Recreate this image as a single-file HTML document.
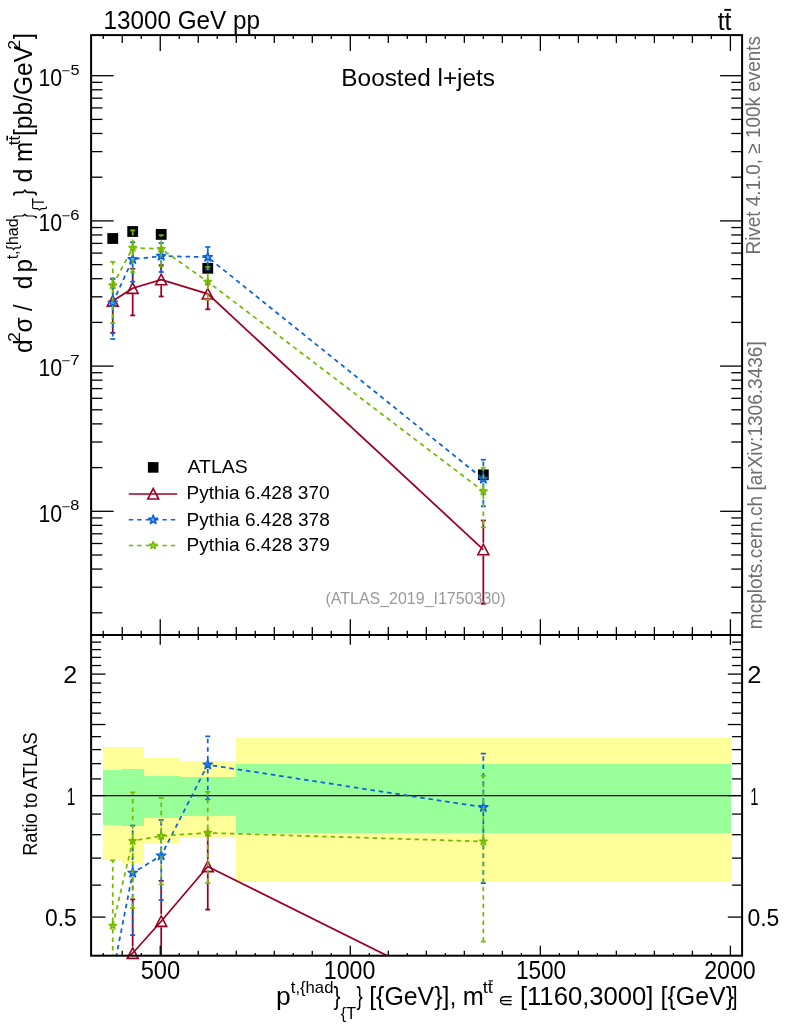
<!DOCTYPE html>
<html><head><meta charset="utf-8"><title>plot</title>
<style>html,body{margin:0;padding:0;background:#fff;}svg{display:block;will-change:transform;}text{font-family:"Liberation Sans",sans-serif;}</style></head><body>
<svg width="786" height="1024" viewBox="0 0 786 1024">
<rect x="0" y="0" width="786" height="1024" fill="#ffffff"/>
<defs>
<clipPath id="cm"><rect x="91.1" y="35.1" width="651.0" height="599.9"/></clipPath>
<clipPath id="cr"><rect x="91.1" y="635.0" width="651.0" height="320.70000000000005"/></clipPath>
</defs>
<rect x="103" y="747" width="19" height="113" fill="#ffff99" shape-rendering="crispEdges"/>
<rect x="122" y="747" width="22" height="116" fill="#ffff99" shape-rendering="crispEdges"/>
<rect x="144" y="758" width="36" height="85" fill="#ffff99" shape-rendering="crispEdges"/>
<rect x="180" y="761" width="56" height="77" fill="#ffff99" shape-rendering="crispEdges"/>
<rect x="236" y="738" width="495" height="144" fill="#ffff99" shape-rendering="crispEdges"/>
<rect x="103" y="770" width="19" height="55" fill="#99ff99" shape-rendering="crispEdges"/>
<rect x="122" y="769" width="22" height="57" fill="#99ff99" shape-rendering="crispEdges"/>
<rect x="144" y="776" width="36" height="42" fill="#99ff99" shape-rendering="crispEdges"/>
<rect x="180" y="777" width="56" height="39" fill="#99ff99" shape-rendering="crispEdges"/>
<rect x="236" y="764" width="495" height="69" fill="#99ff99" shape-rendering="crispEdges"/>
<line x1="91.1" y1="795.60" x2="742.1" y2="795.60" stroke="#000" stroke-width="1.3"/>
<rect x="107.34" y="233.10" width="10.8" height="10.8" fill="#000"/>
<rect x="127.29" y="226.10" width="10.8" height="10.8" fill="#000"/>
<rect x="155.80" y="229.00" width="10.8" height="10.8" fill="#000"/>
<rect x="202.36" y="262.90" width="10.8" height="10.8" fill="#000"/>
<rect x="477.94" y="469.40" width="10.8" height="10.8" fill="#000"/>
<g clip-path="url(#cm)" fill="none" stroke="#9b0023" stroke-width="1.75">
<polyline points="112.74,301.00 132.69,288.20 161.20,279.60 207.76,293.80 483.33,549.60"/>
<line x1="112.74" y1="294.10" x2="112.74" y2="278.70"/>
<line x1="110.24" y1="278.70" x2="115.24" y2="278.70"/>
<line x1="112.74" y1="306.90" x2="112.74" y2="332.90"/>
<line x1="110.24" y1="332.90" x2="115.24" y2="332.90"/>
<line x1="132.69" y1="281.30" x2="132.69" y2="268.80"/>
<line x1="130.19" y1="268.80" x2="135.19" y2="268.80"/>
<line x1="132.69" y1="294.10" x2="132.69" y2="315.40"/>
<line x1="130.19" y1="315.40" x2="135.19" y2="315.40"/>
<line x1="161.20" y1="272.70" x2="161.20" y2="265.10"/>
<line x1="158.70" y1="265.10" x2="163.70" y2="265.10"/>
<line x1="161.20" y1="285.50" x2="161.20" y2="296.50"/>
<line x1="158.70" y1="296.50" x2="163.70" y2="296.50"/>
<line x1="207.76" y1="286.90" x2="207.76" y2="281.30"/>
<line x1="205.26" y1="281.30" x2="210.26" y2="281.30"/>
<line x1="207.76" y1="299.70" x2="207.76" y2="309.30"/>
<line x1="205.26" y1="309.30" x2="210.26" y2="309.30"/>
<line x1="483.33" y1="542.70" x2="483.33" y2="520.50"/>
<line x1="480.83" y1="520.50" x2="485.83" y2="520.50"/>
<line x1="483.33" y1="555.50" x2="483.33" y2="603.80"/>
<line x1="480.83" y1="603.80" x2="485.83" y2="603.80"/>
</g>
<path d="M107.29 306.15 L118.19 306.15 L112.74 295.65 Z" fill="none" stroke="#9b0023" stroke-width="1.6" stroke-linejoin="miter"/>
<path d="M127.24 293.35 L138.14 293.35 L132.69 282.85 Z" fill="none" stroke="#9b0023" stroke-width="1.6" stroke-linejoin="miter"/>
<path d="M155.75 284.75 L166.65 284.75 L161.20 274.25 Z" fill="none" stroke="#9b0023" stroke-width="1.6" stroke-linejoin="miter"/>
<path d="M202.31 298.95 L213.21 298.95 L207.76 288.45 Z" fill="none" stroke="#9b0023" stroke-width="1.6" stroke-linejoin="miter"/>
<path d="M477.88 554.75 L488.78 554.75 L483.33 544.25 Z" fill="none" stroke="#9b0023" stroke-width="1.6" stroke-linejoin="miter"/>
<g clip-path="url(#cm)" fill="none" stroke="#0a62e0" stroke-width="1.75">
<polyline points="112.74,302.70 132.69,259.30 161.20,256.00 207.76,257.20 483.33,479.00" stroke-dasharray="4.5 3.9"/>
<line x1="112.74" y1="298.10" x2="112.74" y2="278.70" stroke-dasharray="4.5 3.9"/>
<line x1="110.24" y1="278.70" x2="115.24" y2="278.70"/>
<line x1="112.74" y1="306.90" x2="112.74" y2="339.00" stroke-dasharray="4.5 3.9"/>
<line x1="110.24" y1="339.00" x2="115.24" y2="339.00"/>
<line x1="132.69" y1="254.70" x2="132.69" y2="242.30" stroke-dasharray="4.5 3.9"/>
<line x1="130.19" y1="242.30" x2="135.19" y2="242.30"/>
<line x1="132.69" y1="263.50" x2="132.69" y2="281.70" stroke-dasharray="4.5 3.9"/>
<line x1="130.19" y1="281.70" x2="135.19" y2="281.70"/>
<line x1="161.20" y1="251.40" x2="161.20" y2="243.10" stroke-dasharray="4.5 3.9"/>
<line x1="158.70" y1="243.10" x2="163.70" y2="243.10"/>
<line x1="161.20" y1="260.20" x2="161.20" y2="272.00" stroke-dasharray="4.5 3.9"/>
<line x1="158.70" y1="272.00" x2="163.70" y2="272.00"/>
<line x1="207.76" y1="252.60" x2="207.76" y2="247.00" stroke-dasharray="4.5 3.9"/>
<line x1="205.26" y1="247.00" x2="210.26" y2="247.00"/>
<line x1="207.76" y1="261.40" x2="207.76" y2="269.70" stroke-dasharray="4.5 3.9"/>
<line x1="205.26" y1="269.70" x2="210.26" y2="269.70"/>
<line x1="483.33" y1="474.40" x2="483.33" y2="459.70" stroke-dasharray="4.5 3.9"/>
<line x1="480.83" y1="459.70" x2="485.83" y2="459.70"/>
<line x1="483.33" y1="483.20" x2="483.33" y2="506.30" stroke-dasharray="4.5 3.9"/>
<line x1="480.83" y1="506.30" x2="485.83" y2="506.30"/>
</g>
<path d="M112.74 297.90 L113.87 301.15 L117.30 301.22 L114.56 303.29 L115.56 306.58 L112.74 304.62 L109.92 306.58 L110.91 303.29 L108.17 301.22 L111.61 301.15 Z" fill="#0a62e0" fill-opacity="0.5" stroke="#0a62e0" stroke-width="1.5" stroke-linejoin="round"/>
<path d="M132.69 254.50 L133.82 257.75 L137.26 257.82 L134.52 259.89 L135.51 263.18 L132.69 261.22 L129.87 263.18 L130.87 259.89 L128.13 257.82 L131.56 257.75 Z" fill="#0a62e0" fill-opacity="0.5" stroke="#0a62e0" stroke-width="1.5" stroke-linejoin="round"/>
<path d="M161.20 251.20 L162.33 254.45 L165.77 254.52 L163.03 256.59 L164.02 259.88 L161.20 257.92 L158.38 259.88 L159.37 256.59 L156.64 254.52 L160.07 254.45 Z" fill="#0a62e0" fill-opacity="0.5" stroke="#0a62e0" stroke-width="1.5" stroke-linejoin="round"/>
<path d="M207.76 252.40 L208.89 255.65 L212.33 255.72 L209.59 257.79 L210.58 261.08 L207.76 259.12 L204.94 261.08 L205.94 257.79 L203.20 255.72 L206.63 255.65 Z" fill="#0a62e0" fill-opacity="0.5" stroke="#0a62e0" stroke-width="1.5" stroke-linejoin="round"/>
<path d="M483.33 474.20 L484.46 477.45 L487.90 477.52 L485.16 479.59 L486.16 482.88 L483.33 480.92 L480.51 482.88 L481.51 479.59 L478.77 477.52 L482.21 477.45 Z" fill="#0a62e0" fill-opacity="0.5" stroke="#0a62e0" stroke-width="1.5" stroke-linejoin="round"/>
<g clip-path="url(#cm)" fill="none" stroke="#74bb00" stroke-width="1.75">
<polyline points="112.74,285.30 132.69,247.80 161.20,248.90 207.76,281.70 483.33,491.30" stroke-dasharray="4.5 3.9"/>
<line x1="112.74" y1="281.50" x2="112.74" y2="261.80" stroke-dasharray="4.5 3.9"/>
<line x1="110.24" y1="261.80" x2="115.24" y2="261.80"/>
<line x1="112.74" y1="288.70" x2="112.74" y2="323.00" stroke-dasharray="4.5 3.9"/>
<line x1="110.24" y1="323.00" x2="115.24" y2="323.00"/>
<line x1="132.69" y1="244.00" x2="132.69" y2="230.30" stroke-dasharray="4.5 3.9"/>
<line x1="130.19" y1="230.30" x2="135.19" y2="230.30"/>
<line x1="132.69" y1="251.20" x2="132.69" y2="272.00" stroke-dasharray="4.5 3.9"/>
<line x1="130.19" y1="272.00" x2="135.19" y2="272.00"/>
<line x1="161.20" y1="245.10" x2="161.20" y2="235.20" stroke-dasharray="4.5 3.9"/>
<line x1="158.70" y1="235.20" x2="163.70" y2="235.20"/>
<line x1="161.20" y1="252.30" x2="161.20" y2="266.30" stroke-dasharray="4.5 3.9"/>
<line x1="158.70" y1="266.30" x2="163.70" y2="266.30"/>
<line x1="207.76" y1="277.90" x2="207.76" y2="267.00" stroke-dasharray="4.5 3.9"/>
<line x1="205.26" y1="267.00" x2="210.26" y2="267.00"/>
<line x1="207.76" y1="285.10" x2="207.76" y2="299.80" stroke-dasharray="4.5 3.9"/>
<line x1="205.26" y1="299.80" x2="210.26" y2="299.80"/>
<line x1="483.33" y1="487.50" x2="483.33" y2="467.60" stroke-dasharray="4.5 3.9"/>
<line x1="480.83" y1="467.60" x2="485.83" y2="467.60"/>
<line x1="483.33" y1="494.70" x2="483.33" y2="527.30" stroke-dasharray="4.5 3.9"/>
<line x1="480.83" y1="527.30" x2="485.83" y2="527.30"/>
</g>
<path d="M112.74 281.40 L113.65 284.04 L116.45 284.09 L114.22 285.78 L115.03 288.46 L112.74 286.86 L110.45 288.46 L111.25 285.78 L109.03 284.09 L111.82 284.04 Z" fill="#74bb00" fill-opacity="0.5" stroke="#74bb00" stroke-width="1.5" stroke-linejoin="round"/>
<path d="M132.69 243.90 L133.61 246.54 L136.40 246.59 L134.18 248.28 L134.99 250.96 L132.69 249.36 L130.40 250.96 L131.21 248.28 L128.98 246.59 L131.78 246.54 Z" fill="#74bb00" fill-opacity="0.5" stroke="#74bb00" stroke-width="1.5" stroke-linejoin="round"/>
<path d="M161.20 245.00 L162.12 247.64 L164.91 247.69 L162.68 249.38 L163.49 252.06 L161.20 250.46 L158.91 252.06 L159.72 249.38 L157.49 247.69 L160.28 247.64 Z" fill="#74bb00" fill-opacity="0.5" stroke="#74bb00" stroke-width="1.5" stroke-linejoin="round"/>
<path d="M207.76 277.80 L208.68 280.44 L211.47 280.49 L209.25 282.18 L210.05 284.86 L207.76 283.26 L205.47 284.86 L206.28 282.18 L204.05 280.49 L206.85 280.44 Z" fill="#74bb00" fill-opacity="0.5" stroke="#74bb00" stroke-width="1.5" stroke-linejoin="round"/>
<path d="M483.33 487.40 L484.25 490.04 L487.04 490.09 L484.82 491.78 L485.63 494.46 L483.33 492.86 L481.04 494.46 L481.85 491.78 L479.63 490.09 L482.42 490.04 Z" fill="#74bb00" fill-opacity="0.5" stroke="#74bb00" stroke-width="1.5" stroke-linejoin="round"/>
<g clip-path="url(#cr)" fill="none" stroke="#9b0023" stroke-width="1.75">
<polyline points="112.74,969.33 132.69,953.21 161.20,921.24 207.76,866.48 483.33,1003.52"/>
<line x1="132.69" y1="946.31" x2="132.69" y2="899.28"/>
<line x1="130.19" y1="899.28" x2="135.19" y2="899.28"/>
<line x1="132.69" y1="959.11" x2="132.69" y2="1028.82"/>
<line x1="130.19" y1="1028.82" x2="135.19" y2="1028.82"/>
<line x1="161.20" y1="914.34" x2="161.20" y2="880.94"/>
<line x1="158.70" y1="880.94" x2="163.70" y2="880.94"/>
<line x1="161.20" y1="927.14" x2="161.20" y2="968.22"/>
<line x1="158.70" y1="968.22" x2="163.70" y2="968.22"/>
<line x1="207.76" y1="859.58" x2="207.76" y2="831.74"/>
<line x1="205.26" y1="831.74" x2="210.26" y2="831.74"/>
<line x1="207.76" y1="872.38" x2="207.76" y2="909.57"/>
<line x1="205.26" y1="909.57" x2="210.26" y2="909.57"/>
</g>
<path d="M127.24 958.36 L138.14 958.36 L132.69 947.86 Z" fill="none" stroke="#9b0023" stroke-width="1.6" stroke-linejoin="miter"/>
<path d="M155.75 926.39 L166.65 926.39 L161.20 915.89 Z" fill="none" stroke="#9b0023" stroke-width="1.6" stroke-linejoin="miter"/>
<path d="M202.31 871.63 L213.21 871.63 L207.76 861.13 Z" fill="none" stroke="#9b0023" stroke-width="1.6" stroke-linejoin="miter"/>
<g clip-path="url(#cr)" fill="none" stroke="#0a62e0" stroke-width="1.75">
<polyline points="112.74,974.06 132.69,872.88 161.20,855.64 207.76,764.75 483.33,807.27" stroke-dasharray="4.5 3.9"/>
<line x1="132.69" y1="868.28" x2="132.69" y2="825.62" stroke-dasharray="4.5 3.9"/>
<line x1="130.19" y1="825.62" x2="135.19" y2="825.62"/>
<line x1="132.69" y1="877.08" x2="132.69" y2="935.14" stroke-dasharray="4.5 3.9"/>
<line x1="130.19" y1="935.14" x2="135.19" y2="935.14"/>
<line x1="161.20" y1="851.04" x2="161.20" y2="819.78" stroke-dasharray="4.5 3.9"/>
<line x1="158.70" y1="819.78" x2="163.70" y2="819.78"/>
<line x1="161.20" y1="859.84" x2="161.20" y2="900.12" stroke-dasharray="4.5 3.9"/>
<line x1="158.70" y1="900.12" x2="163.70" y2="900.12"/>
<line x1="207.76" y1="760.15" x2="207.76" y2="736.39" stroke-dasharray="4.5 3.9"/>
<line x1="205.26" y1="736.39" x2="210.26" y2="736.39"/>
<line x1="207.76" y1="768.95" x2="207.76" y2="799.49" stroke-dasharray="4.5 3.9"/>
<line x1="205.26" y1="799.49" x2="210.26" y2="799.49"/>
<line x1="483.33" y1="802.67" x2="483.33" y2="753.63" stroke-dasharray="4.5 3.9"/>
<line x1="480.83" y1="753.63" x2="485.83" y2="753.63"/>
<line x1="483.33" y1="811.47" x2="483.33" y2="883.16" stroke-dasharray="4.5 3.9"/>
<line x1="480.83" y1="883.16" x2="485.83" y2="883.16"/>
</g>
<path d="M132.69 868.08 L133.82 871.32 L137.26 871.39 L134.52 873.47 L135.51 876.76 L132.69 874.80 L129.87 876.76 L130.87 873.47 L128.13 871.39 L131.56 871.32 Z" fill="#0a62e0" fill-opacity="0.5" stroke="#0a62e0" stroke-width="1.5" stroke-linejoin="round"/>
<path d="M161.20 850.84 L162.33 854.09 L165.77 854.16 L163.03 856.24 L164.02 859.53 L161.20 857.56 L158.38 859.53 L159.37 856.24 L156.64 854.16 L160.07 854.09 Z" fill="#0a62e0" fill-opacity="0.5" stroke="#0a62e0" stroke-width="1.5" stroke-linejoin="round"/>
<path d="M207.76 759.95 L208.89 763.19 L212.33 763.26 L209.59 765.34 L210.58 768.63 L207.76 766.67 L204.94 768.63 L205.94 765.34 L203.20 763.26 L206.63 763.19 Z" fill="#0a62e0" fill-opacity="0.5" stroke="#0a62e0" stroke-width="1.5" stroke-linejoin="round"/>
<path d="M483.33 802.47 L484.46 805.72 L487.90 805.79 L485.16 807.87 L486.16 811.16 L483.33 809.19 L480.51 811.16 L481.51 807.87 L478.77 805.79 L482.21 805.72 Z" fill="#0a62e0" fill-opacity="0.5" stroke="#0a62e0" stroke-width="1.5" stroke-linejoin="round"/>
<g clip-path="url(#cr)" fill="none" stroke="#74bb00" stroke-width="1.75">
<polyline points="112.74,925.69 132.69,840.91 161.20,835.91 207.76,832.85 483.33,841.47" stroke-dasharray="4.5 3.9"/>
<line x1="112.74" y1="921.89" x2="112.74" y2="860.37" stroke-dasharray="4.5 3.9"/>
<line x1="110.24" y1="860.37" x2="115.24" y2="860.37"/>
<line x1="112.74" y1="929.09" x2="112.74" y2="1030.49" stroke-dasharray="4.5 3.9"/>
<line x1="110.24" y1="1030.49" x2="115.24" y2="1030.49"/>
<line x1="132.69" y1="837.11" x2="132.69" y2="792.26" stroke-dasharray="4.5 3.9"/>
<line x1="130.19" y1="792.26" x2="135.19" y2="792.26"/>
<line x1="132.69" y1="844.31" x2="132.69" y2="908.18" stroke-dasharray="4.5 3.9"/>
<line x1="130.19" y1="908.18" x2="135.19" y2="908.18"/>
<line x1="161.20" y1="832.11" x2="161.20" y2="797.82" stroke-dasharray="4.5 3.9"/>
<line x1="158.70" y1="797.82" x2="163.70" y2="797.82"/>
<line x1="161.20" y1="839.31" x2="161.20" y2="884.27" stroke-dasharray="4.5 3.9"/>
<line x1="158.70" y1="884.27" x2="163.70" y2="884.27"/>
<line x1="207.76" y1="829.05" x2="207.76" y2="791.99" stroke-dasharray="4.5 3.9"/>
<line x1="205.26" y1="791.99" x2="210.26" y2="791.99"/>
<line x1="207.76" y1="836.25" x2="207.76" y2="883.16" stroke-dasharray="4.5 3.9"/>
<line x1="205.26" y1="883.16" x2="210.26" y2="883.16"/>
<line x1="483.33" y1="837.67" x2="483.33" y2="775.59" stroke-dasharray="4.5 3.9"/>
<line x1="480.83" y1="775.59" x2="485.83" y2="775.59"/>
<line x1="483.33" y1="844.87" x2="483.33" y2="941.53" stroke-dasharray="4.5 3.9"/>
<line x1="480.83" y1="941.53" x2="485.83" y2="941.53"/>
</g>
<path d="M112.74 921.79 L113.65 924.43 L116.45 924.49 L114.22 926.17 L115.03 928.85 L112.74 927.25 L110.45 928.85 L111.25 926.17 L109.03 924.49 L111.82 924.43 Z" fill="#74bb00" fill-opacity="0.5" stroke="#74bb00" stroke-width="1.5" stroke-linejoin="round"/>
<path d="M132.69 837.01 L133.61 839.65 L136.40 839.70 L134.18 841.39 L134.99 844.06 L132.69 842.47 L130.40 844.06 L131.21 841.39 L128.98 839.70 L131.78 839.65 Z" fill="#74bb00" fill-opacity="0.5" stroke="#74bb00" stroke-width="1.5" stroke-linejoin="round"/>
<path d="M161.20 832.01 L162.12 834.64 L164.91 834.70 L162.68 836.39 L163.49 839.06 L161.20 837.47 L158.91 839.06 L159.72 836.39 L157.49 834.70 L160.28 834.64 Z" fill="#74bb00" fill-opacity="0.5" stroke="#74bb00" stroke-width="1.5" stroke-linejoin="round"/>
<path d="M207.76 828.95 L208.68 831.59 L211.47 831.64 L209.25 833.33 L210.05 836.00 L207.76 834.41 L205.47 836.00 L206.28 833.33 L204.05 831.64 L206.85 831.59 Z" fill="#74bb00" fill-opacity="0.5" stroke="#74bb00" stroke-width="1.5" stroke-linejoin="round"/>
<path d="M483.33 837.57 L484.25 840.20 L487.04 840.26 L484.82 841.95 L485.63 844.62 L483.33 843.03 L481.04 844.62 L481.85 841.95 L479.63 840.26 L482.42 840.20 Z" fill="#74bb00" fill-opacity="0.5" stroke="#74bb00" stroke-width="1.5" stroke-linejoin="round"/>
<g stroke="#000" stroke-width="1.3" fill="none">
<line x1="103.23" y1="35.1" x2="103.23" y2="39.10"/>
<line x1="103.23" y1="630.70" x2="103.23" y2="638.00"/>
<line x1="103.23" y1="953.10" x2="103.23" y2="955.7"/>
<line x1="122.24" y1="35.1" x2="122.24" y2="43.10"/>
<line x1="122.24" y1="627.00" x2="122.24" y2="640.00"/>
<line x1="122.24" y1="950.70" x2="122.24" y2="955.7"/>
<line x1="141.25" y1="35.1" x2="141.25" y2="39.10"/>
<line x1="141.25" y1="630.70" x2="141.25" y2="638.00"/>
<line x1="141.25" y1="953.10" x2="141.25" y2="955.7"/>
<line x1="160.25" y1="35.1" x2="160.25" y2="51.10"/>
<line x1="160.25" y1="619.30" x2="160.25" y2="644.80"/>
<line x1="160.25" y1="945.70" x2="160.25" y2="955.7"/>
<line x1="179.25" y1="35.1" x2="179.25" y2="39.10"/>
<line x1="179.25" y1="630.70" x2="179.25" y2="638.00"/>
<line x1="179.25" y1="953.10" x2="179.25" y2="955.7"/>
<line x1="198.26" y1="35.1" x2="198.26" y2="43.10"/>
<line x1="198.26" y1="627.00" x2="198.26" y2="640.00"/>
<line x1="198.26" y1="950.70" x2="198.26" y2="955.7"/>
<line x1="217.26" y1="35.1" x2="217.26" y2="39.10"/>
<line x1="217.26" y1="630.70" x2="217.26" y2="638.00"/>
<line x1="217.26" y1="953.10" x2="217.26" y2="955.7"/>
<line x1="236.27" y1="35.1" x2="236.27" y2="43.10"/>
<line x1="236.27" y1="627.00" x2="236.27" y2="640.00"/>
<line x1="236.27" y1="950.70" x2="236.27" y2="955.7"/>
<line x1="255.27" y1="35.1" x2="255.27" y2="39.10"/>
<line x1="255.27" y1="630.70" x2="255.27" y2="638.00"/>
<line x1="255.27" y1="953.10" x2="255.27" y2="955.7"/>
<line x1="274.28" y1="35.1" x2="274.28" y2="43.10"/>
<line x1="274.28" y1="627.00" x2="274.28" y2="640.00"/>
<line x1="274.28" y1="950.70" x2="274.28" y2="955.7"/>
<line x1="293.28" y1="35.1" x2="293.28" y2="39.10"/>
<line x1="293.28" y1="630.70" x2="293.28" y2="638.00"/>
<line x1="293.28" y1="953.10" x2="293.28" y2="955.7"/>
<line x1="312.29" y1="35.1" x2="312.29" y2="43.10"/>
<line x1="312.29" y1="627.00" x2="312.29" y2="640.00"/>
<line x1="312.29" y1="950.70" x2="312.29" y2="955.7"/>
<line x1="331.29" y1="35.1" x2="331.29" y2="39.10"/>
<line x1="331.29" y1="630.70" x2="331.29" y2="638.00"/>
<line x1="331.29" y1="953.10" x2="331.29" y2="955.7"/>
<line x1="350.30" y1="35.1" x2="350.30" y2="51.10"/>
<line x1="350.30" y1="619.30" x2="350.30" y2="644.80"/>
<line x1="350.30" y1="945.70" x2="350.30" y2="955.7"/>
<line x1="369.31" y1="35.1" x2="369.31" y2="39.10"/>
<line x1="369.31" y1="630.70" x2="369.31" y2="638.00"/>
<line x1="369.31" y1="953.10" x2="369.31" y2="955.7"/>
<line x1="388.31" y1="35.1" x2="388.31" y2="43.10"/>
<line x1="388.31" y1="627.00" x2="388.31" y2="640.00"/>
<line x1="388.31" y1="950.70" x2="388.31" y2="955.7"/>
<line x1="407.31" y1="35.1" x2="407.31" y2="39.10"/>
<line x1="407.31" y1="630.70" x2="407.31" y2="638.00"/>
<line x1="407.31" y1="953.10" x2="407.31" y2="955.7"/>
<line x1="426.32" y1="35.1" x2="426.32" y2="43.10"/>
<line x1="426.32" y1="627.00" x2="426.32" y2="640.00"/>
<line x1="426.32" y1="950.70" x2="426.32" y2="955.7"/>
<line x1="445.32" y1="35.1" x2="445.32" y2="39.10"/>
<line x1="445.32" y1="630.70" x2="445.32" y2="638.00"/>
<line x1="445.32" y1="953.10" x2="445.32" y2="955.7"/>
<line x1="464.33" y1="35.1" x2="464.33" y2="43.10"/>
<line x1="464.33" y1="627.00" x2="464.33" y2="640.00"/>
<line x1="464.33" y1="950.70" x2="464.33" y2="955.7"/>
<line x1="483.33" y1="35.1" x2="483.33" y2="39.10"/>
<line x1="483.33" y1="630.70" x2="483.33" y2="638.00"/>
<line x1="483.33" y1="953.10" x2="483.33" y2="955.7"/>
<line x1="502.34" y1="35.1" x2="502.34" y2="43.10"/>
<line x1="502.34" y1="627.00" x2="502.34" y2="640.00"/>
<line x1="502.34" y1="950.70" x2="502.34" y2="955.7"/>
<line x1="521.35" y1="35.1" x2="521.35" y2="39.10"/>
<line x1="521.35" y1="630.70" x2="521.35" y2="638.00"/>
<line x1="521.35" y1="953.10" x2="521.35" y2="955.7"/>
<line x1="540.35" y1="35.1" x2="540.35" y2="51.10"/>
<line x1="540.35" y1="619.30" x2="540.35" y2="644.80"/>
<line x1="540.35" y1="945.70" x2="540.35" y2="955.7"/>
<line x1="559.36" y1="35.1" x2="559.36" y2="39.10"/>
<line x1="559.36" y1="630.70" x2="559.36" y2="638.00"/>
<line x1="559.36" y1="953.10" x2="559.36" y2="955.7"/>
<line x1="578.36" y1="35.1" x2="578.36" y2="43.10"/>
<line x1="578.36" y1="627.00" x2="578.36" y2="640.00"/>
<line x1="578.36" y1="950.70" x2="578.36" y2="955.7"/>
<line x1="597.37" y1="35.1" x2="597.37" y2="39.10"/>
<line x1="597.37" y1="630.70" x2="597.37" y2="638.00"/>
<line x1="597.37" y1="953.10" x2="597.37" y2="955.7"/>
<line x1="616.37" y1="35.1" x2="616.37" y2="43.10"/>
<line x1="616.37" y1="627.00" x2="616.37" y2="640.00"/>
<line x1="616.37" y1="950.70" x2="616.37" y2="955.7"/>
<line x1="635.38" y1="35.1" x2="635.38" y2="39.10"/>
<line x1="635.38" y1="630.70" x2="635.38" y2="638.00"/>
<line x1="635.38" y1="953.10" x2="635.38" y2="955.7"/>
<line x1="654.38" y1="35.1" x2="654.38" y2="43.10"/>
<line x1="654.38" y1="627.00" x2="654.38" y2="640.00"/>
<line x1="654.38" y1="950.70" x2="654.38" y2="955.7"/>
<line x1="673.38" y1="35.1" x2="673.38" y2="39.10"/>
<line x1="673.38" y1="630.70" x2="673.38" y2="638.00"/>
<line x1="673.38" y1="953.10" x2="673.38" y2="955.7"/>
<line x1="692.39" y1="35.1" x2="692.39" y2="43.10"/>
<line x1="692.39" y1="627.00" x2="692.39" y2="640.00"/>
<line x1="692.39" y1="950.70" x2="692.39" y2="955.7"/>
<line x1="711.39" y1="35.1" x2="711.39" y2="39.10"/>
<line x1="711.39" y1="630.70" x2="711.39" y2="638.00"/>
<line x1="711.39" y1="953.10" x2="711.39" y2="955.7"/>
<line x1="730.40" y1="35.1" x2="730.40" y2="51.10"/>
<line x1="730.40" y1="619.30" x2="730.40" y2="644.80"/>
<line x1="730.40" y1="945.70" x2="730.40" y2="955.7"/>
<line x1="91.1" y1="612.79" x2="102.40" y2="612.79"/>
<line x1="742.1" y1="612.79" x2="731.30" y2="612.79"/>
<line x1="91.1" y1="587.22" x2="102.40" y2="587.22"/>
<line x1="742.1" y1="587.22" x2="731.30" y2="587.22"/>
<line x1="91.1" y1="569.08" x2="102.40" y2="569.08"/>
<line x1="742.1" y1="569.08" x2="731.30" y2="569.08"/>
<line x1="91.1" y1="555.01" x2="102.40" y2="555.01"/>
<line x1="742.1" y1="555.01" x2="731.30" y2="555.01"/>
<line x1="91.1" y1="543.51" x2="102.40" y2="543.51"/>
<line x1="742.1" y1="543.51" x2="731.30" y2="543.51"/>
<line x1="91.1" y1="533.79" x2="102.40" y2="533.79"/>
<line x1="742.1" y1="533.79" x2="731.30" y2="533.79"/>
<line x1="91.1" y1="525.37" x2="102.40" y2="525.37"/>
<line x1="742.1" y1="525.37" x2="731.30" y2="525.37"/>
<line x1="91.1" y1="517.94" x2="102.40" y2="517.94"/>
<line x1="742.1" y1="517.94" x2="731.30" y2="517.94"/>
<line x1="91.1" y1="511.30" x2="113.60" y2="511.30"/>
<line x1="742.1" y1="511.30" x2="720.10" y2="511.30"/>
<line x1="91.1" y1="467.59" x2="102.40" y2="467.59"/>
<line x1="742.1" y1="467.59" x2="731.30" y2="467.59"/>
<line x1="91.1" y1="442.02" x2="102.40" y2="442.02"/>
<line x1="742.1" y1="442.02" x2="731.30" y2="442.02"/>
<line x1="91.1" y1="423.88" x2="102.40" y2="423.88"/>
<line x1="742.1" y1="423.88" x2="731.30" y2="423.88"/>
<line x1="91.1" y1="409.81" x2="102.40" y2="409.81"/>
<line x1="742.1" y1="409.81" x2="731.30" y2="409.81"/>
<line x1="91.1" y1="398.31" x2="102.40" y2="398.31"/>
<line x1="742.1" y1="398.31" x2="731.30" y2="398.31"/>
<line x1="91.1" y1="388.59" x2="102.40" y2="388.59"/>
<line x1="742.1" y1="388.59" x2="731.30" y2="388.59"/>
<line x1="91.1" y1="380.17" x2="102.40" y2="380.17"/>
<line x1="742.1" y1="380.17" x2="731.30" y2="380.17"/>
<line x1="91.1" y1="372.74" x2="102.40" y2="372.74"/>
<line x1="742.1" y1="372.74" x2="731.30" y2="372.74"/>
<line x1="91.1" y1="366.10" x2="113.60" y2="366.10"/>
<line x1="742.1" y1="366.10" x2="720.10" y2="366.10"/>
<line x1="91.1" y1="322.39" x2="102.40" y2="322.39"/>
<line x1="742.1" y1="322.39" x2="731.30" y2="322.39"/>
<line x1="91.1" y1="296.82" x2="102.40" y2="296.82"/>
<line x1="742.1" y1="296.82" x2="731.30" y2="296.82"/>
<line x1="91.1" y1="278.68" x2="102.40" y2="278.68"/>
<line x1="742.1" y1="278.68" x2="731.30" y2="278.68"/>
<line x1="91.1" y1="264.61" x2="102.40" y2="264.61"/>
<line x1="742.1" y1="264.61" x2="731.30" y2="264.61"/>
<line x1="91.1" y1="253.11" x2="102.40" y2="253.11"/>
<line x1="742.1" y1="253.11" x2="731.30" y2="253.11"/>
<line x1="91.1" y1="243.39" x2="102.40" y2="243.39"/>
<line x1="742.1" y1="243.39" x2="731.30" y2="243.39"/>
<line x1="91.1" y1="234.97" x2="102.40" y2="234.97"/>
<line x1="742.1" y1="234.97" x2="731.30" y2="234.97"/>
<line x1="91.1" y1="227.54" x2="102.40" y2="227.54"/>
<line x1="742.1" y1="227.54" x2="731.30" y2="227.54"/>
<line x1="91.1" y1="220.90" x2="113.60" y2="220.90"/>
<line x1="742.1" y1="220.90" x2="720.10" y2="220.90"/>
<line x1="91.1" y1="177.19" x2="102.40" y2="177.19"/>
<line x1="742.1" y1="177.19" x2="731.30" y2="177.19"/>
<line x1="91.1" y1="151.62" x2="102.40" y2="151.62"/>
<line x1="742.1" y1="151.62" x2="731.30" y2="151.62"/>
<line x1="91.1" y1="133.48" x2="102.40" y2="133.48"/>
<line x1="742.1" y1="133.48" x2="731.30" y2="133.48"/>
<line x1="91.1" y1="119.41" x2="102.40" y2="119.41"/>
<line x1="742.1" y1="119.41" x2="731.30" y2="119.41"/>
<line x1="91.1" y1="107.91" x2="102.40" y2="107.91"/>
<line x1="742.1" y1="107.91" x2="731.30" y2="107.91"/>
<line x1="91.1" y1="98.19" x2="102.40" y2="98.19"/>
<line x1="742.1" y1="98.19" x2="731.30" y2="98.19"/>
<line x1="91.1" y1="89.77" x2="102.40" y2="89.77"/>
<line x1="742.1" y1="89.77" x2="731.30" y2="89.77"/>
<line x1="91.1" y1="82.34" x2="102.40" y2="82.34"/>
<line x1="742.1" y1="82.34" x2="731.30" y2="82.34"/>
<line x1="91.1" y1="75.70" x2="113.60" y2="75.70"/>
<line x1="742.1" y1="75.70" x2="720.10" y2="75.70"/>
<line x1="91.1" y1="917.10" x2="105.40" y2="917.10"/>
<line x1="742.1" y1="917.10" x2="727.80" y2="917.10"/>
<line x1="91.1" y1="885.14" x2="101.10" y2="885.14"/>
<line x1="742.1" y1="885.14" x2="732.10" y2="885.14"/>
<line x1="91.1" y1="858.12" x2="101.10" y2="858.12"/>
<line x1="742.1" y1="858.12" x2="732.10" y2="858.12"/>
<line x1="91.1" y1="834.71" x2="101.10" y2="834.71"/>
<line x1="742.1" y1="834.71" x2="732.10" y2="834.71"/>
<line x1="91.1" y1="814.07" x2="101.10" y2="814.07"/>
<line x1="742.1" y1="814.07" x2="732.10" y2="814.07"/>
<line x1="91.1" y1="795.60" x2="105.40" y2="795.60"/>
<line x1="742.1" y1="795.60" x2="727.80" y2="795.60"/>
<line x1="91.1" y1="778.89" x2="101.10" y2="778.89"/>
<line x1="742.1" y1="778.89" x2="732.10" y2="778.89"/>
<line x1="91.1" y1="763.64" x2="101.10" y2="763.64"/>
<line x1="742.1" y1="763.64" x2="732.10" y2="763.64"/>
<line x1="91.1" y1="749.61" x2="101.10" y2="749.61"/>
<line x1="742.1" y1="749.61" x2="732.10" y2="749.61"/>
<line x1="91.1" y1="736.62" x2="101.10" y2="736.62"/>
<line x1="742.1" y1="736.62" x2="732.10" y2="736.62"/>
<line x1="91.1" y1="724.53" x2="105.40" y2="724.53"/>
<line x1="742.1" y1="724.53" x2="727.80" y2="724.53"/>
<line x1="91.1" y1="713.21" x2="101.10" y2="713.21"/>
<line x1="742.1" y1="713.21" x2="732.10" y2="713.21"/>
<line x1="91.1" y1="702.59" x2="101.10" y2="702.59"/>
<line x1="742.1" y1="702.59" x2="732.10" y2="702.59"/>
<line x1="91.1" y1="692.57" x2="101.10" y2="692.57"/>
<line x1="742.1" y1="692.57" x2="732.10" y2="692.57"/>
<line x1="91.1" y1="683.09" x2="101.10" y2="683.09"/>
<line x1="742.1" y1="683.09" x2="732.10" y2="683.09"/>
<line x1="91.1" y1="674.10" x2="105.40" y2="674.10"/>
<line x1="742.1" y1="674.10" x2="727.80" y2="674.10"/>
<line x1="91.1" y1="665.55" x2="101.10" y2="665.55"/>
<line x1="742.1" y1="665.55" x2="732.10" y2="665.55"/>
<line x1="91.1" y1="657.39" x2="101.10" y2="657.39"/>
<line x1="742.1" y1="657.39" x2="732.10" y2="657.39"/>
<line x1="91.1" y1="649.60" x2="101.10" y2="649.60"/>
<line x1="742.1" y1="649.60" x2="732.10" y2="649.60"/>
<line x1="91.1" y1="642.14" x2="101.10" y2="642.14"/>
<line x1="742.1" y1="642.14" x2="732.10" y2="642.14"/>
</g>
<g stroke="#000" stroke-width="2.0" fill="none" stroke-linecap="square">
<rect x="91.1" y="35.1" width="651.0" height="920.6"/>
<line x1="91.1" y1="635.0" x2="742.1" y2="635.0"/>
</g>
<rect x="147.90" y="462.10" width="10.6" height="10.6" fill="#000"/>
<line x1="128.8" y1="493.9" x2="177.1" y2="493.9" stroke="#9b0023" stroke-width="1.5"/>
<path d="M147.75 499.05 L158.65 499.05 L153.20 488.55 Z" fill="none" stroke="#9b0023" stroke-width="1.6" stroke-linejoin="miter"/>
<line x1="128.8" y1="519.7" x2="177.1" y2="519.7" stroke="#0a62e0" stroke-width="1.5" stroke-dasharray="4.4 4.0"/>
<path d="M153.20 514.90 L154.33 518.15 L157.77 518.22 L155.03 520.29 L156.02 523.58 L153.20 521.62 L150.38 523.58 L151.37 520.29 L148.63 518.22 L152.07 518.15 Z" fill="#0a62e0" fill-opacity="0.5" stroke="#0a62e0" stroke-width="1.5" stroke-linejoin="round"/>
<line x1="128.8" y1="545.4" x2="177.1" y2="545.4" stroke="#74bb00" stroke-width="1.5" stroke-dasharray="4.4 4.0"/>
<path d="M153.20 541.50 L154.12 544.14 L156.91 544.19 L154.68 545.88 L155.49 548.56 L153.20 546.96 L150.91 548.56 L151.72 545.88 L149.49 544.19 L152.28 544.14 Z" fill="#74bb00" fill-opacity="0.5" stroke="#74bb00" stroke-width="1.5" stroke-linejoin="round"/>
<text x="187.50" y="472.70" font-size="19.2" textLength="60.25" lengthAdjust="spacingAndGlyphs">ATLAS</text>
<text x="186.57" y="499.30" font-size="19.2" textLength="143.11" lengthAdjust="spacingAndGlyphs">Pythia 6.428 370</text>
<text x="186.57" y="525.60" font-size="19.2" textLength="143.21" lengthAdjust="spacingAndGlyphs">Pythia 6.428 378</text>
<text x="186.57" y="550.80" font-size="19.2" textLength="143.31" lengthAdjust="spacingAndGlyphs">Pythia 6.428 379</text>
<text x="103.38" y="29.00" font-size="25" textLength="156.69" lengthAdjust="spacingAndGlyphs">13000 GeV pp</text>
<text x="341.35" y="85.50" font-size="24.8" textLength="153.69" lengthAdjust="spacingAndGlyphs">Boosted l+jets</text>
<text x="717.73" y="29.50" font-size="26.5" textLength="13.81" lengthAdjust="spacingAndGlyphs">tt</text>
<line x1="724.3" y1="9.85" x2="731.1" y2="9.85" stroke="#000" stroke-width="1.9"/>
<text x="325.44" y="604.00" font-size="16" textLength="180.07" lengthAdjust="spacingAndGlyphs" fill="#999999">(ATLAS_2019_I1750330)</text>
<text x="38.40" y="85.90" font-size="23.4" textLength="23.69" lengthAdjust="spacingAndGlyphs">10</text>
<text x="61.44" y="75.90" font-size="15.2" textLength="8.91" lengthAdjust="spacingAndGlyphs" fill="#333">−</text>
<text x="70.45" y="74.80" font-size="15.2" textLength="9.02" lengthAdjust="spacingAndGlyphs">5</text>
<text x="38.40" y="231.10" font-size="23.4" textLength="23.69" lengthAdjust="spacingAndGlyphs">10</text>
<text x="61.44" y="221.10" font-size="15.2" textLength="8.91" lengthAdjust="spacingAndGlyphs" fill="#333">−</text>
<text x="70.27" y="220.00" font-size="15.2" textLength="9.21" lengthAdjust="spacingAndGlyphs">6</text>
<text x="38.40" y="376.30" font-size="23.4" textLength="23.69" lengthAdjust="spacingAndGlyphs">10</text>
<text x="61.44" y="366.30" font-size="15.2" textLength="8.91" lengthAdjust="spacingAndGlyphs" fill="#333">−</text>
<text x="70.25" y="365.20" font-size="15.2" textLength="9.41" lengthAdjust="spacingAndGlyphs">7</text>
<text x="38.40" y="521.50" font-size="23.4" textLength="23.69" lengthAdjust="spacingAndGlyphs">10</text>
<text x="61.44" y="511.50" font-size="15.2" textLength="8.91" lengthAdjust="spacingAndGlyphs" fill="#333">−</text>
<text x="70.36" y="510.40" font-size="15.2" textLength="9.11" lengthAdjust="spacingAndGlyphs">8</text>
<text x="63.35" y="683.20" font-size="24.6" textLength="13.93" lengthAdjust="spacingAndGlyphs">2</text>
<text x="747.23" y="683.20" font-size="24.6" textLength="14.18" lengthAdjust="spacingAndGlyphs">2</text>
<text x="66.84" y="804.70" font-size="24.6" textLength="8.57" lengthAdjust="spacingAndGlyphs">1</text>
<text x="750.30" y="804.70" font-size="24.6" textLength="8.18" lengthAdjust="spacingAndGlyphs">1</text>
<text x="45.09" y="926.20" font-size="24.6" textLength="31.73" lengthAdjust="spacingAndGlyphs">0.5</text>
<text x="747.38" y="926.20" font-size="24.6" textLength="31.94" lengthAdjust="spacingAndGlyphs">0.5</text>
<text x="140.65" y="978.50" font-size="25" textLength="39.56" lengthAdjust="spacingAndGlyphs">500</text>
<text x="323.76" y="978.50" font-size="25" textLength="51.54" lengthAdjust="spacingAndGlyphs">1000</text>
<text x="515.90" y="978.50" font-size="25" textLength="50.28" lengthAdjust="spacingAndGlyphs">1500</text>
<text x="704.14" y="978.50" font-size="25" textLength="51.67" lengthAdjust="spacingAndGlyphs">2000</text>
<text transform="translate(36.70,854.40) rotate(-90)" x="-1.46" y="0" font-size="19.6" textLength="123.43" lengthAdjust="spacingAndGlyphs">Ratio to ATLAS</text>
<text transform="translate(760.10,253.00) rotate(-90)" x="-1.51" y="0" font-size="19.8" textLength="218.38" lengthAdjust="spacingAndGlyphs" fill="#6e6e6e">Rivet 4.1.0, ≥ 100k events</text>
<text transform="translate(761.90,628.00) rotate(-90)" x="-1.24" y="0" font-size="19.4" textLength="287.96" lengthAdjust="spacingAndGlyphs" fill="#6e6e6e">mcplots.cern.ch [arXiv:1306.3436]</text>
<text transform="translate(32.40,352.10) rotate(-90)" x="-0.98" y="0" font-size="26.4" textLength="13.60" lengthAdjust="spacingAndGlyphs">d</text>
<text transform="translate(20.20,341.10) rotate(-90)" x="-0.89" y="0" font-size="16.4" textLength="9.90" lengthAdjust="spacingAndGlyphs">2</text>
<text transform="translate(32.40,331.60) rotate(-90)" x="-0.98" y="0" font-size="26.4" textLength="15.18" lengthAdjust="spacingAndGlyphs">σ</text>
<text transform="translate(32.40,311.10) rotate(-90)" x="-0.00" y="0" font-size="26.4" textLength="6.55" lengthAdjust="spacingAndGlyphs">/</text>
<text transform="translate(32.40,288.40) rotate(-90)" x="-0.98" y="0" font-size="26.4" textLength="13.60" lengthAdjust="spacingAndGlyphs">d</text>
<text transform="translate(32.40,270.80) rotate(-90)" x="-1.59" y="0" font-size="26.4" textLength="13.60" lengthAdjust="spacingAndGlyphs">p</text>
<text transform="translate(18.40,259.10) rotate(-90)" x="-0.24" y="0" font-size="16.4" textLength="40.93" lengthAdjust="spacingAndGlyphs">t,{had</text>
<text transform="translate(32.40,218.30) rotate(-90)" x="-0.22" y="0" font-size="26.4" textLength="4.90" lengthAdjust="spacingAndGlyphs">}</text>
<text transform="translate(43.50,210.90) rotate(-90)" x="-0.21" y="0" font-size="16.4" textLength="13.39" lengthAdjust="spacingAndGlyphs">{T</text>
<text transform="translate(32.40,195.40) rotate(-90)" x="-0.30" y="0" font-size="26.4" textLength="6.57" lengthAdjust="spacingAndGlyphs">}</text>
<text transform="translate(32.40,181.40) rotate(-90)" x="-1.00" y="0" font-size="26.4" textLength="13.97" lengthAdjust="spacingAndGlyphs">d</text>
<text transform="translate(32.40,160.40) rotate(-90)" x="-1.58" y="0" font-size="26.4" textLength="20.21" lengthAdjust="spacingAndGlyphs">m</text>
<text transform="translate(19.90,144.90) rotate(-90)" x="-0.26" y="0" font-size="16.4" textLength="9.55" lengthAdjust="spacingAndGlyphs">tt</text>
<text transform="translate(32.40,134.30) rotate(-90)" x="-1.72" y="0" font-size="26.4" textLength="90.14" lengthAdjust="spacingAndGlyphs">[pb/GeV</text>
<text transform="translate(19.90,48.80) rotate(-90)" x="-0.89" y="0" font-size="16.4" textLength="9.90" lengthAdjust="spacingAndGlyphs">2</text>
<text transform="translate(32.40,39.10) rotate(-90)" x="-0.11" y="0" font-size="26.4" textLength="5.97" lengthAdjust="spacingAndGlyphs">]</text>
<line x1="7.2" y1="140.6" x2="7.2" y2="135.7" stroke="#000" stroke-width="1.6"/>
<text x="275.98" y="1005.20" font-size="26.4" textLength="14.71" lengthAdjust="spacingAndGlyphs">p</text>
<text x="290.75" y="992.60" font-size="16.4" textLength="42.69" lengthAdjust="spacingAndGlyphs">t,{had</text>
<text x="333.38" y="1005.20" font-size="26.4" textLength="7.01" lengthAdjust="spacingAndGlyphs">}</text>
<text x="340.86" y="1019.20" font-size="16.4" textLength="15.16" lengthAdjust="spacingAndGlyphs">{T</text>
<text x="356.52" y="1005.20" font-size="26.4" textLength="6.23" lengthAdjust="spacingAndGlyphs">}</text>
<text x="369.16" y="1005.20" font-size="26.4" textLength="87.22" lengthAdjust="spacingAndGlyphs">[{GeV}],</text>
<text x="462.86" y="1005.20" font-size="26.4" textLength="21.03" lengthAdjust="spacingAndGlyphs">m</text>
<text x="482.73" y="993.00" font-size="16.4" textLength="10.18" lengthAdjust="spacingAndGlyphs">tt</text>
<line x1="488.6" y1="980.9" x2="492.8" y2="980.9" stroke="#000" stroke-width="1.2"/>
<path d="M511.6 996.7 H504.4 A3.9 3.9 0 0 0 504.4 1004.5 H511.6 M500.5 1000.6 H511.6" fill="none" stroke="#000" stroke-width="1.35"/>
<text x="519.91" y="1005.20" font-size="26.2" textLength="133.48" lengthAdjust="spacingAndGlyphs">[1160,3000]</text>
<text x="660.55" y="1005.20" font-size="26.4" textLength="73.46" lengthAdjust="spacingAndGlyphs">[{GeV}</text>
<text x="731.79" y="1005.20" font-size="26.4" textLength="5.83" lengthAdjust="spacingAndGlyphs">]</text>
</svg></body></html>
